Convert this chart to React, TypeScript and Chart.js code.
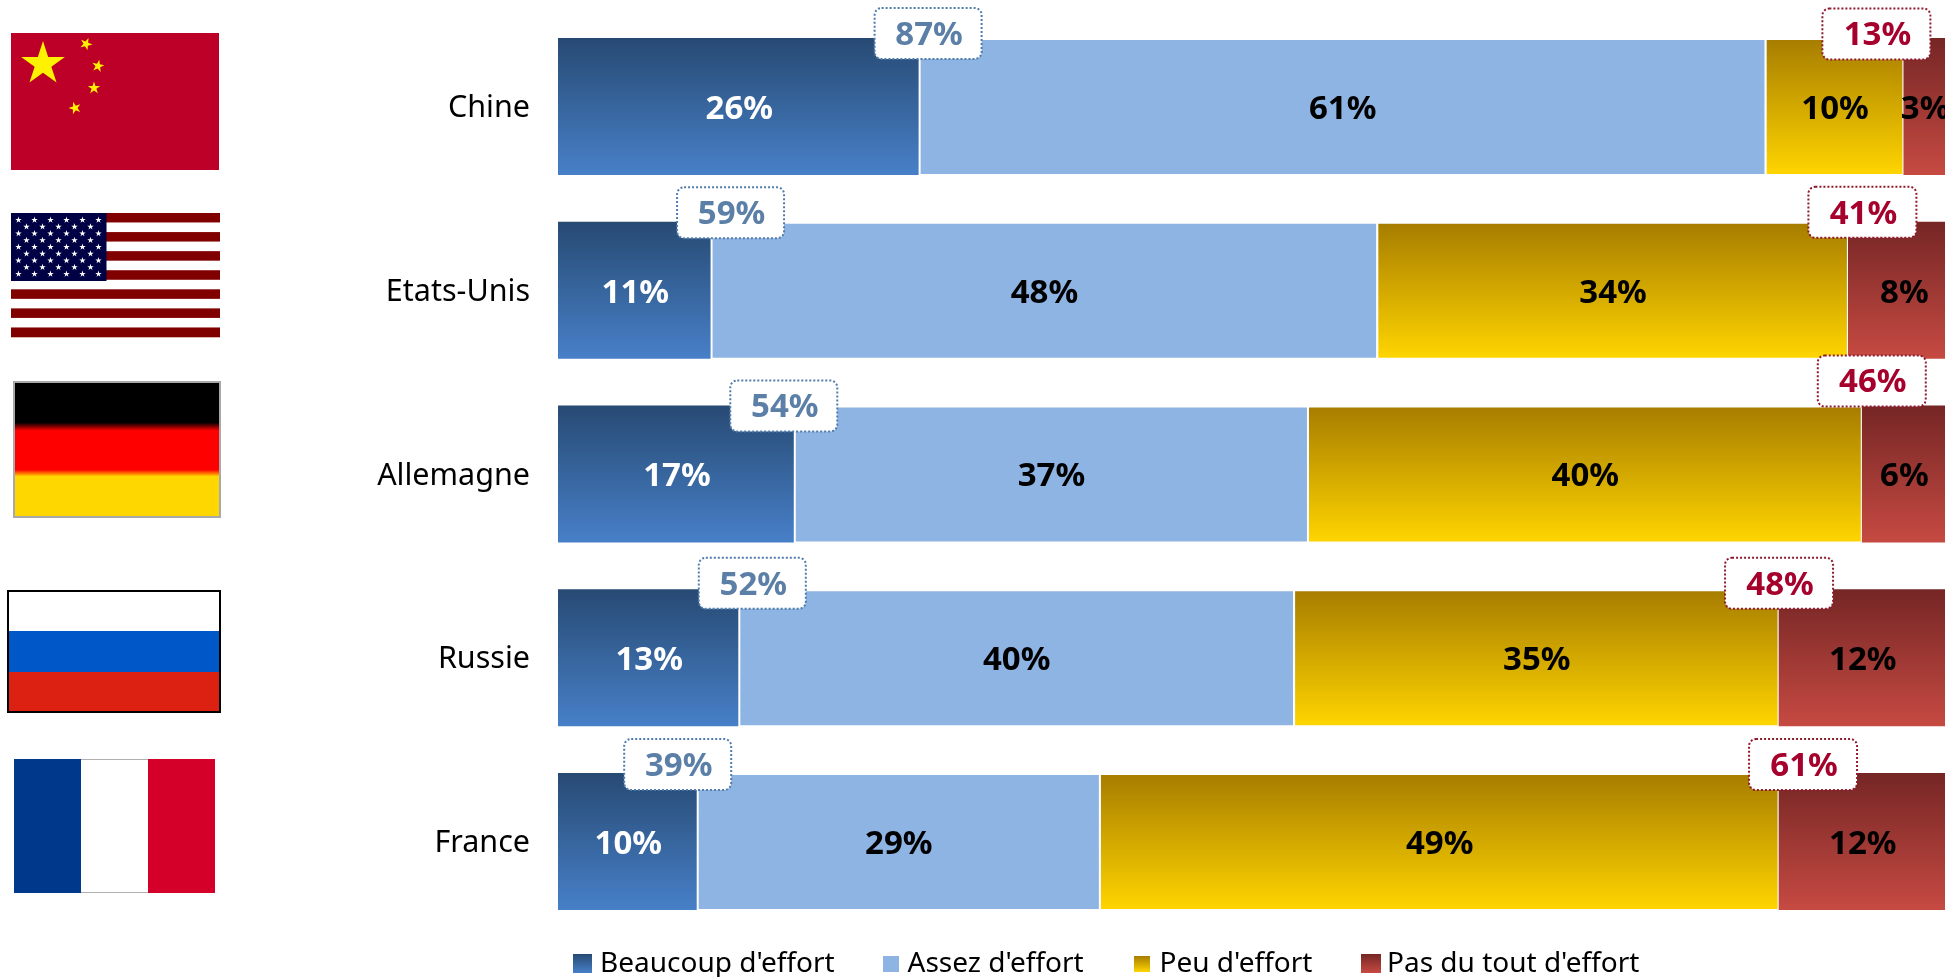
import React, { useEffect, useRef } from "react";
import { Chart, registerables } from "chart.js";

Chart.register(...registerables);

const categories = ["Chine", "Etats-Unis", "Allemagne", "Russie", "France"];
const seriesNames = ["Beaucoup d'effort", "Assez d'effort", "Peu d'effort", "Pas du tout d'effort"];
const beaucoup = [26, 11, 17, 13, 10];
const assez = [61, 48, 37, 40, 29];
const peu = [10, 34, 40, 35, 49];
const pasDuTout = [3, 8, 6, 12, 12];
const totalEffort = [87, 59, 54, 52, 39];
const totalSansEffort = [13, 41, 46, 48, 61];

const FONT = '"Noto Sans", sans-serif';
const BAR_HALF = 68.5;

const blueGrad: [string, string] = ["#274A73", "#4780C8"];
const goldGrad: [string, string] = ["#A67C00", "#FFD500"];
const redGrad: [string, string] = ["#752625", "#C64A42"];
const lightBlue = "#8EB4E3";

// Callout placement relative to the segment boundary and the row centre
const blueCalloutDx = [9.5, 20, -10, 14, -19];
const blueCalloutDy = [-73, -77.5, -68, -74.5, -77];
const redCalloutDx = [-27, 14.5, 10, 0.5, 24.5];
const redCalloutDy = [-72.5, -78, -93, -74.5, -77];

const legendLayout = [
  { box: [573, 954, 19, 19], text: 600 },
  { box: [883, 956, 16, 16], text: 907.5 },
  { box: [1134, 956, 16, 16], text: 1159.5 },
  { box: [1361, 954, 20, 19], text: 1387 },
];

function vGrad(ctx: CanvasRenderingContext2D, top: number, bottom: number, c: [string, string]) {
  const g = ctx.createLinearGradient(0, top, 0, bottom);
  g.addColorStop(0, c[0]);
  g.addColorStop(1, c[1]);
  return g;
}

function barGradient(colors: [string, string]) {
  return (c: any) => {
    const yScale = c.chart.scales.y;
    if (!yScale || c.dataIndex === undefined) return colors[1];
    const mid = yScale.getPixelForValue(c.dataIndex);
    if (!Number.isFinite(mid)) return colors[1];
    return vGrad(c.chart.ctx, mid - BAR_HALF, mid + BAR_HALF, colors);
  };
}

function star(ctx: CanvasRenderingContext2D, cx: number, cy: number, r: number, rot = 0) {
  ctx.beginPath();
  for (let i = 0; i < 10; i++) {
    const rad = i % 2 === 0 ? r : r * 0.382;
    const a = -Math.PI / 2 + rot + (i * Math.PI) / 5;
    const x = cx + rad * Math.cos(a);
    const y = cy + rad * Math.sin(a);
    if (i === 0) ctx.moveTo(x, y);
    else ctx.lineTo(x, y);
  }
  ctx.closePath();
  ctx.fill();
}

function drawFlags(ctx: CanvasRenderingContext2D) {
  ctx.save();
  // China
  ctx.fillStyle = "#BC0028";
  ctx.fillRect(11, 33, 208, 137);
  ctx.fillStyle = "#FFF200";
  star(ctx, 43, 64, 23);
  star(ctx, 86, 44, 6.5, 0.4);
  star(ctx, 98, 66, 6.5, 0.2);
  star(ctx, 94, 88, 6.5, 0);
  star(ctx, 75, 108, 6.5, -0.3);

  // USA
  const usT = 213;
  const usH = 124;
  for (let i = 0; i < 13; i++) {
    ctx.fillStyle = i % 2 === 0 ? "#800000" : "#FFFFFF";
    ctx.fillRect(11, usT + (i * usH) / 13, 209, usH / 13 + 0.3);
  }
  ctx.fillStyle = "#000044";
  ctx.fillRect(11, usT, 95.5, 68);
  ctx.fillStyle = "#FFFFFF";
  for (let r = 0; r < 9; r++) {
    const n = r % 2 === 0 ? 6 : 5;
    for (let k = 0; k < n; k++) {
      const x = (r % 2 === 0 ? 18.5 : 26.5) + k * 16;
      star(ctx, x, 220 + r * 6.75, 3.4);
    }
  }

  // Germany
  const de = ctx.createLinearGradient(0, 382, 0, 517);
  const deStops: [number, string][] = [
    [0, "#000000"], [0.3, "#000000"], [0.36, "#FF0000"],
    [0.65, "#FF0000"], [0.7, "#FFD700"], [1, "#FFD700"],
  ];
  deStops.forEach(([p, col]) => de.addColorStop(p, col));
  ctx.fillStyle = de;
  ctx.fillRect(13, 381, 208, 137);
  ctx.strokeStyle = "#A8A8A8";
  ctx.lineWidth = 2;
  ctx.strokeRect(14, 382, 206, 135);

  // Russia
  ctx.fillStyle = "#FFFFFF";
  ctx.fillRect(8, 591, 212, 40);
  ctx.fillStyle = "#0057C8";
  ctx.fillRect(8, 631, 212, 41);
  ctx.fillStyle = "#DC2012";
  ctx.fillRect(8, 672, 212, 40);
  ctx.strokeStyle = "#000000";
  ctx.lineWidth = 2;
  ctx.strokeRect(8, 591, 212, 121);

  // France
  ctx.fillStyle = "#00388B";
  ctx.fillRect(14, 759, 67, 134);
  ctx.fillStyle = "#B0B0B0";
  ctx.fillRect(81, 759, 67, 134);
  ctx.fillStyle = "#FFFFFF";
  ctx.fillRect(81, 760, 67, 132);
  ctx.fillStyle = "#D5002A";
  ctx.fillRect(148, 759, 67, 134);
  ctx.restore();
}

function roundedBox(ctx: CanvasRenderingContext2D, x: number, y: number, w: number, h: number, r: number) {
  ctx.beginPath();
  ctx.roundRect(x, y, w, h, r);
}

const extrasPlugin = {
  id: "extras",
  beforeDraw(chart: any) {
    drawFlags(chart.ctx);
  },
  afterDraw(chart: any) {
    const { ctx, scales } = chart;
    const x = scales.x;
    const y = scales.y;
    ctx.save();
    ctx.font = `bold 33px ${FONT}`;
    ctx.textAlign = "center";
    ctx.textBaseline = "middle";

    // segment labels
    chart.data.datasets.forEach((ds: any, di: number) => {
      const meta = chart.getDatasetMeta(di);
      meta.data.forEach((bar: any, i: number) => {
        ctx.fillStyle = di === 0 ? "#FFFFFF" : "#000000";
        ctx.fillText(`${ds.data[i]}%`, bar.getCenterPoint().x + 1, bar.getCenterPoint().y + 3);
      });
    });

    // callouts
    const callout = (
      value: number, cx: number, cy: number, w: number,
      border: string, color: string
    ) => {
      const h = 51;
      roundedBox(ctx, cx - w / 2, cy - h / 2, w, h, 7);
      ctx.fillStyle = "#FFFFFF";
      ctx.fill();
      ctx.strokeStyle = border;
      ctx.lineWidth = 2;
      ctx.setLineDash([2, 2]);
      ctx.stroke();
      ctx.setLineDash([]);
      ctx.fillStyle = color;
      ctx.fillText(`${value}%`, cx + 1, cy + 2);
    };
    categories.forEach((_, i) => {
      const mid = y.getPixelForValue(i);
      callout(
        totalEffort[i],
        x.getPixelForValue(beaucoup[i]) + blueCalloutDx[i],
        mid + blueCalloutDy[i],
        107, "#4F7CAC", "#5B7FA6"
      );
      callout(
        totalSansEffort[i],
        x.getPixelForValue(beaucoup[i] + assez[i] + peu[i]) + redCalloutDx[i],
        mid + redCalloutDy[i],
        108, "#8E1A2E", "#A6002C"
      );
    });

    // legend
    const fills = [
      (t: number, b: number) => vGrad(ctx, t, b, blueGrad),
      () => lightBlue,
      (t: number, b: number) => vGrad(ctx, t, b, goldGrad),
      (t: number, b: number) => vGrad(ctx, t, b, redGrad),
    ];
    ctx.font = `28px ${FONT}`;
    ctx.textAlign = "left";
    ctx.fillStyle = "#000000";
    seriesNames.forEach((name, i) => {
      const { box, text } = legendLayout[i];
      ctx.fillStyle = fills[i](box[1], box[1] + box[3]);
      ctx.fillRect(box[0], box[1], box[2], box[3]);
      ctx.fillStyle = "#000000";
      ctx.fillText(name, text, 964);
    });
    ctx.restore();
  },
};

export default function App() {
  const ref = useRef<HTMLCanvasElement>(null);

  useEffect(() => {
    const canvas = ref.current;
    if (!canvas) return;
    const white = "#FFFFFF";
    const chart = new Chart(canvas, {
      type: "bar",
      data: {
        labels: categories,
        datasets: [
          {
            label: seriesNames[0],
            data: beaucoup,
            backgroundColor: barGradient(blueGrad),
            borderWidth: 0,
          },
          {
            label: seriesNames[1],
            data: assez,
            backgroundColor: lightBlue,
            borderColor: white,
            borderWidth: { left: 2, right: 0, top: 2, bottom: 1 },
            borderSkipped: false,
            inflateAmount: 0,
          },
          {
            label: seriesNames[2],
            data: peu,
            backgroundColor: barGradient(goldGrad),
            borderColor: white,
            borderWidth: { left: 2, right: 1, top: 2, bottom: 1 },
            borderSkipped: false,
            inflateAmount: 0,
          },
          {
            label: seriesNames[3],
            data: pasDuTout,
            backgroundColor: barGradient(redGrad),
            borderWidth: 0,
          },
        ] as any,
      },
      options: {
        indexAxis: "y",
        responsive: false,
        animation: false,
        devicePixelRatio: 1,
        layout: { padding: { left: 0, right: 0, top: 14.6, bottom: 977 - 933.4 } },
        datasets: { bar: { barPercentage: 1, categoryPercentage: 0.7456 } },
        plugins: { legend: { display: false }, tooltip: { enabled: false }, title: { display: false } },
        scales: {
          x: { display: false, stacked: true, min: 0, max: 100 },
          y: {
            stacked: true,
            grid: { display: false, drawTicks: false },
            border: { display: false },
            ticks: {
              color: "#000000",
              font: { family: FONT, size: 30.5 },
              padding: 28,
              labelOffset: 2,
              crossAlign: "near",
            },
            afterFit: (s: any) => {
              s.width = 558;
              s.paddingTop = 0;
              s.paddingBottom = 0;
            },
          },
        },
      } as any,
      plugins: [extrasPlugin],
    });
    return () => chart.destroy();
  }, []);

  return (
    <div style={{ position: "fixed", left: 0, top: 0, width: 1945, height: 977, overflow: "hidden", background: "#FFFFFF" }}>
      <canvas ref={ref} width={1945} height={977} style={{ display: "block", width: 1945, height: 977 }} />
    </div>
  );
}
